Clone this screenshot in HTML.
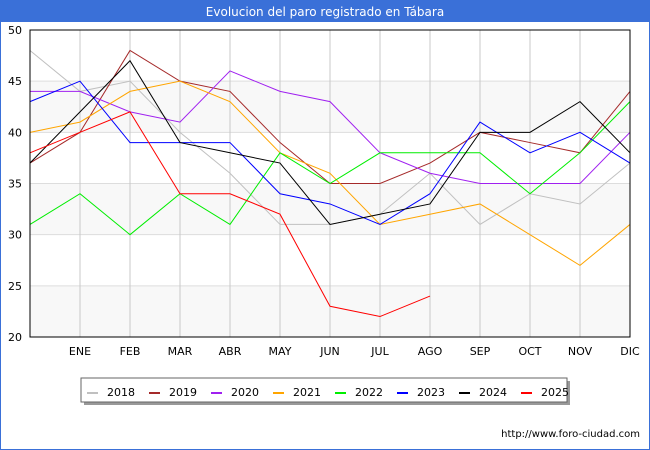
<!DOCTYPE html>
<html><head><meta charset="utf-8"><style>
body{margin:0;background:#fff;}
#wrap{position:relative;width:650px;height:450px;overflow:hidden;}
svg text{font-family:"DejaVu Sans","Liberation Sans",sans-serif;}
</style></head><body>
<div id="wrap">
<svg id="chart" width="650" height="450" xmlns="http://www.w3.org/2000/svg">
<rect x="0" y="0" width="650" height="450" fill="#fff" stroke="#3a70d8" stroke-width="2"/>
<rect x="0" y="0" width="650" height="22" fill="#3a70d8"/>
<text x="325" y="16" text-anchor="middle" fill="#fff" font-size="12">Evolucion del paro registrado en Tábara</text>
<g id="bands"></g><g id="grid"></g><g id="lines"></g><g id="axes"></g>
<rect x="30" y="30" width="600" height="307" fill="none" stroke="#000" stroke-width="1"/>
<rect x="84" y="381" width="486" height="24" fill="#999"/>
<rect x="81" y="378" width="486" height="24" fill="#fff" stroke="#666"/>
<g id="legend"></g>
<text x="640" y="437" text-anchor="end" font-size="10" fill="#000">http://www.foro-ciudad.com</text>
</svg>
</div>
<script>
const months = ["", "ENE","FEB","MAR","ABR","MAY","JUN","JUL","AGO","SEP","OCT","NOV","DIC"];
const yTicks = [20,25,30,35,40,45,50];
const years = ["2018","2019","2020","2021","2022","2023","2024","2025"];
const colors = ["#c0c0c0","#a52a2a","#a020f0","#ffa500","#00ee00","#0000ff","#000000","#ff0000"];
const s2018 = [48,44,45,40,36,31,31,32,36,31,34,33,37];
const s2019 = [37,40,48,45,44,39,35,35,37,40,39,38,44];
const s2020 = [44,44,42,41,46,44,43,38,36,35,35,35,40];
const s2021 = [40,41,44,45,43,38,36,31,32,33,30,27,31];
const s2022 = [31,34,30,34,31,38,35,38,38,38,34,38,43];
const s2023 = [43,45,39,39,39,34,33,31,34,41,38,40,37];
const s2024 = [37,42,47,39,38,37,31,32,33,40,40,43,38];
const s2025 = [38,40,42,34,34,32,23,22,24];
const series = [s2018,s2019,s2020,s2021,s2022,s2023,s2024,s2025];

const NS="http://www.w3.org/2000/svg";
const X=i=>30+i*50;
const Y=v=>337-(v-20)*307/30;
function mk(tag,attrs,parent){const e=document.createElementNS(NS,tag);for(const k in attrs)e.setAttribute(k,attrs[k]);document.getElementById(parent).appendChild(e);return e;}

for(let k=0;k<yTicks.length-1;k++){
  if(k%2===0){
    const b=mk("rect",{x:30,y:Y(yTicks[k+1]),width:600,height:Y(yTicks[k])-Y(yTicks[k+1]),fill:"#f8f8f8"},"bands");
    
    
  }
}
yTicks.forEach(v=>{
  const l=mk("line",{x1:30,x2:630,y1:Y(v),y2:Y(v),stroke:"#ddd"},"grid");
  
  
  const t=mk("text",{x:22,y:Y(v)+4,"text-anchor":"end","font-size":"11",fill:"#000"},"axes");
  t.textContent=v;
  
  
});
months.forEach((m,i)=>{
  if(i===0)return;
  const l=mk("line",{x1:X(i),x2:X(i),y1:30,y2:337,stroke:"#c8c8c8"},"grid");
  
  
  const t=mk("text",{x:X(i),y:355,"text-anchor":"middle","font-size":"11",fill:"#000"},"axes");
  t.textContent=m;
  
  
});
series.forEach((s,k)=>{
  const pts=s.map((v,i)=>X(i)+","+Y(v)).join(" ");
  const p=mk("polyline",{points:pts,fill:"none",stroke:colors[k],"stroke-width":"1"},"lines");
  
  
});
years.forEach((y,k)=>{
  const x0=87+k*62;
  const sw=mk("rect",{x:x0,y:392,width:11,height:2,fill:colors[k]},"legend");
  
  
  const t=mk("text",{x:x0+20,y:396,"font-size":"11",fill:"#000"},"legend");
  t.textContent=y;
  
  
});
</script>
</body></html>
